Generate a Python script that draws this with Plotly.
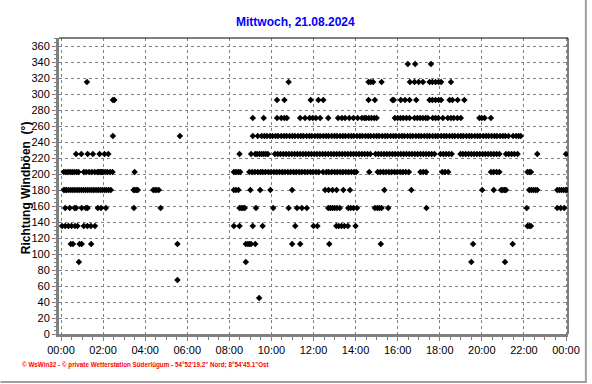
import plotly.graph_objects as go

# ---- data: gust direction readings (minutes after midnight) per direction ----
directions = [337.5, 315, 292.5, 270, 247.5, 225, 202.5, 180, 157.5, 135, 112.5, 90, 67.5, 45]

t_337 = [989, 1010, 1055]
t_315 = [74, 649, 877, 883, 890, 914, 995, 1008, 1020, 1032, 1051, 1059, 1068, 1077, 1084, 1112]
t_292 = [148, 152, 616, 637, 712, 734, 748, 877, 895, 945, 949, 969, 981, 994, 1013,
         1051, 1059, 1068, 1077, 1084, 1108, 1116, 1131, 1150]
t_270 = [547, 578, 616, 628, 637, 644, 682, 696, 709, 718, 727, 739, 762, 790, 801, 810,
         822, 834, 846, 858, 865, 870, 878, 885, 893, 900, 952, 960, 968, 976, 985, 994,
         1008, 1016, 1024, 1032, 1040, 1046, 1060, 1068, 1076, 1089, 1103, 1112, 1120,
         1130, 1140, 1193, 1200, 1208, 1226]
t_247 = [148, 339, 547, 561, 572, 580, 587, 596, 603, 612, 619, 628, 636, 643, 652, 660,
         667, 676, 684, 691, 700, 708, 715, 724, 732, 739, 748, 756, 763, 772, 780, 787,
         796, 804, 811, 820, 828, 835, 844, 852, 859, 868, 876, 883, 892, 900, 907, 916,
         924, 931, 940, 948, 955, 964, 972, 979, 988, 996, 1003, 1012, 1020, 1027, 1036,
         1044, 1051, 1060, 1068, 1075, 1084, 1092, 1099, 1108, 1116, 1123, 1132, 1140,
         1147, 1156, 1164, 1171, 1180, 1188, 1195, 1204, 1212, 1219, 1228, 1236, 1243,
         1252, 1260, 1267, 1276, 1289, 1298, 1305, 1311]
t_225 = [43, 58, 76, 91, 110, 124, 135, 509, 542, 554, 559, 566, 572, 578, 584, 590,
         610, 618, 626, 634, 642, 650, 658, 666, 674, 682, 690, 698, 706, 714, 722, 730,
         738, 746, 754, 762, 770, 778, 786, 794, 802, 810, 818, 826, 834, 842, 850, 858,
         866, 874, 882, 897, 905, 913, 921, 929, 937, 945, 953, 961, 969, 977, 985, 993,
         1001, 1009, 1017, 1025, 1033, 1041, 1049, 1057, 1065, 1082, 1090, 1098, 1106,
         1114, 1139, 1146, 1154, 1162, 1170, 1178, 1186, 1194, 1202, 1210, 1218, 1226,
         1234, 1242, 1250, 1269, 1277, 1285, 1293, 1302, 1358, 1440]
t_202 = [8, 14, 20, 26, 32, 38, 44, 50, 65, 72, 80, 88, 96, 104, 108, 112, 116, 120, 126,
         132, 140, 147, 210, 493, 499, 505, 511, 537, 545, 553, 561, 569, 575, 583, 591,
         599, 607, 615, 623, 631, 639, 647, 655, 663, 671, 679, 687, 695, 703, 711, 719,
         727, 735, 747, 757, 763, 772, 780, 788, 796, 804, 812, 820, 828, 836, 842, 879,
         903, 911, 919, 927, 935, 943, 951, 959, 967, 975, 983, 992, 1025, 1033, 1041,
         1087, 1095, 1104, 1226, 1234, 1242, 1250, 1330, 1336, 1340]
t_180 = [8, 12, 16, 22, 28, 34, 40, 46, 52, 58, 64, 70, 76, 82, 88, 94, 100, 106, 112,
         118, 124, 130, 136, 142, 207, 211, 215, 219, 263, 268, 273, 279, 493, 499, 506,
         540, 568, 597, 659, 753, 763, 774, 786, 805, 824, 922, 999, 1201, 1234, 1255,
         1260, 1265, 1269, 1335, 1341, 1347, 1353, 1358, 1415, 1421, 1427, 1433, 1439, 1442]
t_157 = [12, 25, 39, 43, 59, 71, 76, 105, 114, 128, 208, 284, 509, 514, 519, 524, 556,
         605, 649, 673, 687, 701, 762, 768, 774, 780, 787, 795, 819, 826, 834, 844, 895,
         902, 908, 914, 933, 1042, 1328, 1415, 1425, 1435]
t_135 = [3, 12, 21, 30, 40, 47, 65, 75, 85, 97, 493, 509, 547, 575, 668, 720, 731, 785,
         792, 800, 808, 818, 840, 1330, 1335, 1340]
t_112 = [28, 34, 53, 59, 86, 332, 527, 533, 538, 542, 554, 659, 682, 765, 912, 1175, 1288]
t_90 = [51, 527, 1170, 1266]
t_67 = [332]
t_45 = [565]

series_times = [t_337, t_315, t_292, t_270, t_247, t_225, t_202, t_180, t_157,
                t_135, t_112, t_90, t_67, t_45]

tick_minutes = [0, 120, 240, 360, 480, 600, 720, 840, 960, 1080, 1200, 1320, 1440]
tick_labels = ["00:00", "02:00", "04:00", "06:00", "08:00", "10:00", "12:00",
               "14:00", "16:00", "18:00", "20:00", "22:00", "00:00"]

title_text = "Mittwoch, 21.08.2024"
y_title = "Richtung Windböen\u00a0 (°)"
footer = "© WsWin32 - © private Wetterstation Süderlügum - 54°52'19.2\" Nord; 8°54'45.1\"Ost"

# ---- figure ----
xs, ys = [], []
for d, times in zip(directions, series_times):
    xs.extend(times)
    ys.extend([d] * len(times))

fig = go.Figure()
fig.add_trace(go.Scatter(
    x=xs, y=ys, mode="markers",
    marker=dict(symbol="diamond", size=5, color="black", line=dict(width=0)),
    hoverinfo="skip", showlegend=False,
))

W, H = 592, 384
L, R, T, B = 59, 20, 38, 50
pw, ph = W - L - R, H - T - B

def px_x(p):
    return (p - L) / pw

def px_y(p):
    return (H - B - p) / ph

grid = dict(showgrid=True, gridcolor="#808080", gridwidth=1, griddash="3px,3px")
fig.update_xaxes(
    range=[-5.7, 1445.7], tickmode="array", tickvals=tick_minutes, ticktext=tick_labels,
    showline=True, linecolor="#808080", linewidth=3, ticks="outside", ticklen=4,
    tickcolor="#808080", zeroline=False,
    minor=dict(ticks="outside", dtick=30, tick0=0, ticklen=3, tickcolor="#808080", showgrid=False),
    tickfont=dict(family="Liberation Sans, Arial", size=11, color="black"), **grid,
)
fig.update_yaxes(
    range=[0, 370], tick0=0, dtick=20,
    showline=True, linecolor="#808080", linewidth=3, ticks="outside", ticklen=4,
    tickcolor="#808080", zeroline=False,
    minor=dict(ticks="outside", dtick=5, tick0=0, ticklen=2, tickcolor="#808080", showgrid=False),
    tickfont=dict(family="Liberation Sans, Arial", size=11, color="black"), **grid,
)

shapes = [
    dict(type="line", xref="paper", yref="paper", x0=0, x1=1, y0=1, y1=1,
         line=dict(color="black", width=1)),
    dict(type="line", xref="paper", yref="paper", x0=1, x1=1, y0=0, y1=1,
         line=dict(color="black", width=1)),
    dict(type="line", xref="paper", yref="paper", x0=px_x(590), x1=px_x(590),
         y0=px_y(383), y1=px_y(0), line=dict(color="#a0a0a0", width=2)),
    dict(type="line", xref="paper", yref="paper", x0=px_x(0), x1=px_x(591),
         y0=px_y(382), y1=px_y(382), line=dict(color="#a0a0a0", width=2)),
]

annotations = [
    dict(text=f"<b>{title_text}</b>", xref="paper", yref="paper", x=px_x(297), y=px_y(22),
         xanchor="center", yanchor="middle", showarrow=False,
         font=dict(family="Liberation Sans, Arial", size=12, color="#0000ff")),
    dict(text=f"<b>{y_title}</b>", xref="paper", yref="paper", x=px_x(26), y=px_y(188),
         xanchor="center", yanchor="middle", textangle=-90, showarrow=False,
         font=dict(family="Liberation Sans, Arial", size=12, color="black")),
    dict(text=f"<b>{footer}</b>", xref="paper", yref="paper", x=px_x(20), y=px_y(365),
         xanchor="left", yanchor="middle", showarrow=False,
         font=dict(family="Liberation Sans, Arial", size=6.3, color="#ff0000")),
]

fig.update_layout(
    width=W, height=H, margin=dict(l=L, r=R, t=T, b=B, pad=0),
    paper_bgcolor="white", plot_bgcolor="white",
    shapes=shapes, annotations=annotations, showlegend=False,
)

fig.write_html("out.html")
